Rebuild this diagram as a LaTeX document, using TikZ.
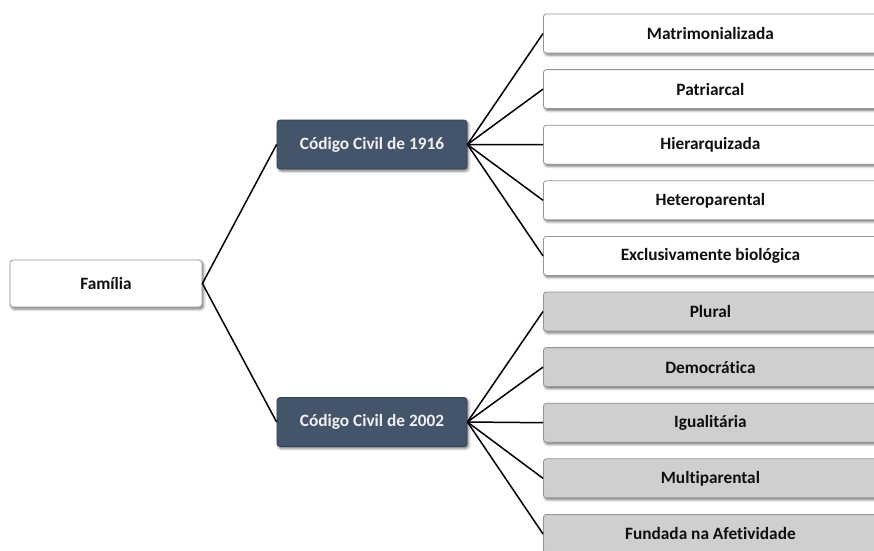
\documentclass[tikz,border=0pt]{standalone}
\usepackage{fontspec}
\setmainfont{Carlito}[Ligatures={NoCommon}]
\usetikzlibrary{shadows.blur}
\definecolor{slate}{RGB}{68,84,106}
\definecolor{slateedge}{RGB}{52,64,82}
\definecolor{lightfill}{RGB}{208,206,206}
\definecolor{boxedge}{RGB}{150,150,150}
\definecolor{inktext}{RGB}{15,15,15}
\tikzset{
  card/.style={draw=boxedge, line width=0.8pt, rounded corners=3pt,
    font=\bfseries\fontsize{17.3}{20}\selectfont, text=inktext,
    inner sep=0pt, align=center,
    blur shadow={shadow xshift=1.5pt, shadow yshift=-2pt,
      shadow blur radius=2.5pt, shadow opacity=55}},
  rootbox/.style={card, fill=white, minimum width=192pt, minimum height=47pt},
  codebox/.style={card, fill=slate, draw=slateedge, text=white!94!black,
    minimum width=190pt, minimum height=49pt},
  oldbox/.style={card, fill=white, minimum width=334pt, minimum height=39pt},
  newbox/.style={card, fill=lightfill, minimum width=334pt, minimum height=39pt},
  link/.style={draw=black, line width=1.5pt}
}
\begin{document}
\begin{tikzpicture}[x=1pt,y=-1pt]
  \useasboundingbox (0,0) rectangle (874,550);
  % root and the two codes
  \node[rootbox] (familia) at (106,283.5) {Família};
  \node[codebox] (cc1916) at (372,144.5) {Código Civil de 1916};
  \node[codebox] (cc2002) at (372,422) {Código Civil de 2002};
  % features of 1916
  \node[oldbox, anchor=west] (matri) at (543,33.5)  {Matrimonializada};
  \node[oldbox, anchor=west] (patri) at (543,89.1)  {Patriarcal};
  \node[oldbox, anchor=west] (hier)  at (543,144.7) {Hierarquizada};
  \node[oldbox, anchor=west] (hetero) at (543,200.3) {Heteroparental};
  \node[oldbox, anchor=west] (bio)   at (543,255.9) {Exclusivamente biológica};
  % features of 2002
  \node[newbox, anchor=west] (plural) at (543,311.5) {Plural};
  \node[newbox, anchor=west] (demo)   at (543,367.1) {Democrática};
  \node[newbox, anchor=west] (igual)  at (543,422.7) {Igualitária};
  \node[newbox, anchor=west] (multi)  at (543,478.3) {Multiparental};
  \node[newbox, anchor=west] (afet)   at (543,533.9) {Fundada na Afetividade};
  % connectors
  \draw[link] (cc1916.west) -- (familia.east) -- (cc2002.west);
  \foreach \n in {matri,patri,hier,hetero,bio}
    \draw[link] (cc1916.east) -- (\n.west);
  \foreach \n in {plural,demo,igual,multi,afet}
    \draw[link] (cc2002.east) -- (\n.west);
\end{tikzpicture}
\end{document}
